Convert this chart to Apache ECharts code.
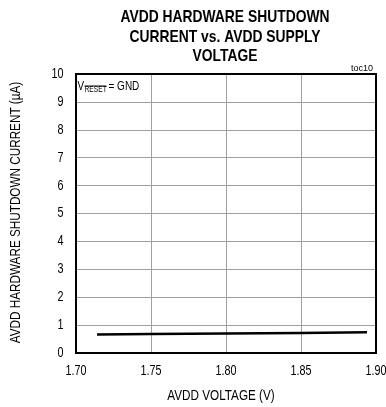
<!DOCTYPE html>
<html>
<head>
<meta charset="utf-8">
<script src="https://cdn.jsdelivr.net/npm/echarts@6/dist/echarts.min.js"></script>
<style>
  html, body { margin: 0; padding: 0; background: #fff; }
  #chart { width: 386px; height: 407px; }
</style>
</head>
<body>
<div id="chart"></div>
<script>
// AVDD hardware shutdown current (µA) vs. AVDD supply voltage (V)
const voltage = [1.714, 1.75, 1.80, 1.85, 1.894];
const current = [0.66, 0.68, 0.70, 0.72, 0.74];
const xTicks = [1.70, 1.75, 1.80, 1.85, 1.90];
const yTicks = [0, 1, 2, 3, 4, 5, 6, 7, 8, 9, 10];
const titleLines = ['AVDD HARDWARE SHUTDOWN', 'CURRENT vs. AVDD SUPPLY', 'VOLTAGE'];
const xName = 'AVDD VOLTAGE (V)';
const yName = 'AVDD HARDWARE SHUTDOWN CURRENT (µA)';

const FONT = '"Liberation Sans", Arial, sans-serif';
const NARROW = 0.82; // horizontal squeeze for a narrow sans look

const chart = echarts.init(document.getElementById('chart'), null, { renderer: 'canvas' });

const plotL = 76, plotT = 74, plotR = 376, plotB = 353;

chart.setOption({
  animation: false,
  backgroundColor: '#fff',
  grid: { left: plotL, top: plotT, width: plotR - plotL, height: plotB - plotT, show: false },
  xAxis: {
    type: 'value', min: xTicks[0], max: xTicks[xTicks.length - 1], interval: 0.05,
    axisLine: { show: false }, axisTick: { show: false }, axisLabel: { show: false },
    splitLine: { show: true, lineStyle: { color: '#a0a0a0', width: 1 } }
  },
  yAxis: {
    type: 'value', min: yTicks[0], max: yTicks[yTicks.length - 1], interval: 1,
    axisLine: { show: false }, axisTick: { show: false }, axisLabel: { show: false },
    splitLine: { show: true, lineStyle: { color: '#a0a0a0', width: 1 } }
  },
  series: [{
    type: 'line',
    data: voltage.map((v, i) => [v, current[i]]),
    showSymbol: false,
    lineStyle: { color: '#000', width: 2.5 },
    z: 5
  }]
});

// narrow text helper: squeezed horizontally around its anchor
function narrowText(str, x, y, size, opts) {
  opts = opts || {};
  return {
    type: 'text', x: x, y: y, rotation: opts.rotation || 0,
    scaleX: opts.scaleX || NARROW, z: 20,
    style: {
      text: str, x: 0, y: 0,
      font: (opts.bold ? 'bold ' : '') + size + 'px ' + FONT,
      fill: '#000',
      textAlign: opts.align || 'center',
      textVerticalAlign: opts.vAlign || 'middle'
    }
  };
}

const g = [];
// plot frame
g.push({ type: 'rect', z: 10,
  shape: { x: plotL, y: plotT, width: plotR - plotL, height: plotB - plotT },
  style: { fill: 'none', stroke: '#000', lineWidth: 2 } });

// title
const titleY = [17, 37, 56.5];
titleLines.forEach((t, i) => g.push(narrowText(t, 225, titleY[i], 16.9, { bold: true })));

// tick labels placed through the axis scales
xTicks.forEach(v => {
  const p = chart.convertToPixel({ gridIndex: 0 }, [v, yTicks[0]]);
  g.push(narrowText(v.toFixed(2), p[0], p[1] + 18, 14.2, { scaleX: 0.76 }));
});
yTicks.forEach(v => {
  const p = chart.convertToPixel({ gridIndex: 0 }, [xTicks[0], v]);
  g.push(narrowText(String(v), p[0] - 12.5, p[1], 14.2, { align: 'right', scaleX: 0.76 }));
});

// axis names
g.push(narrowText(xName, 221, 396, 14.3));
g.push(narrowText(yName, 16.5, 212.5, 14.3, { rotation: Math.PI / 2 }));

// corner tag
g.push({ type: 'text', z: 20, x: 373, y: 69,
  style: { text: 'toc10', x: 0, y: 0, font: '9px ' + FONT, fill: '#000',
           textAlign: 'right', textVerticalAlign: 'middle' } });

// V(RESET, overlined) = GND
g.push(narrowText('V', 77.5, 87, 12, { align: 'left' }));
g.push(narrowText('RESET', 84.5, 90, 8.2, { align: 'left' }));
g.push({ type: 'line', z: 20, shape: { x1: 84.5, y1: 86, x2: 106.3, y2: 86 },
  style: { stroke: '#000', lineWidth: 1 } });
g.push(narrowText('= GND', 108.5, 87, 12.2, { align: 'left' }));

chart.setOption({ graphic: g });
</script>
</body>
</html>
